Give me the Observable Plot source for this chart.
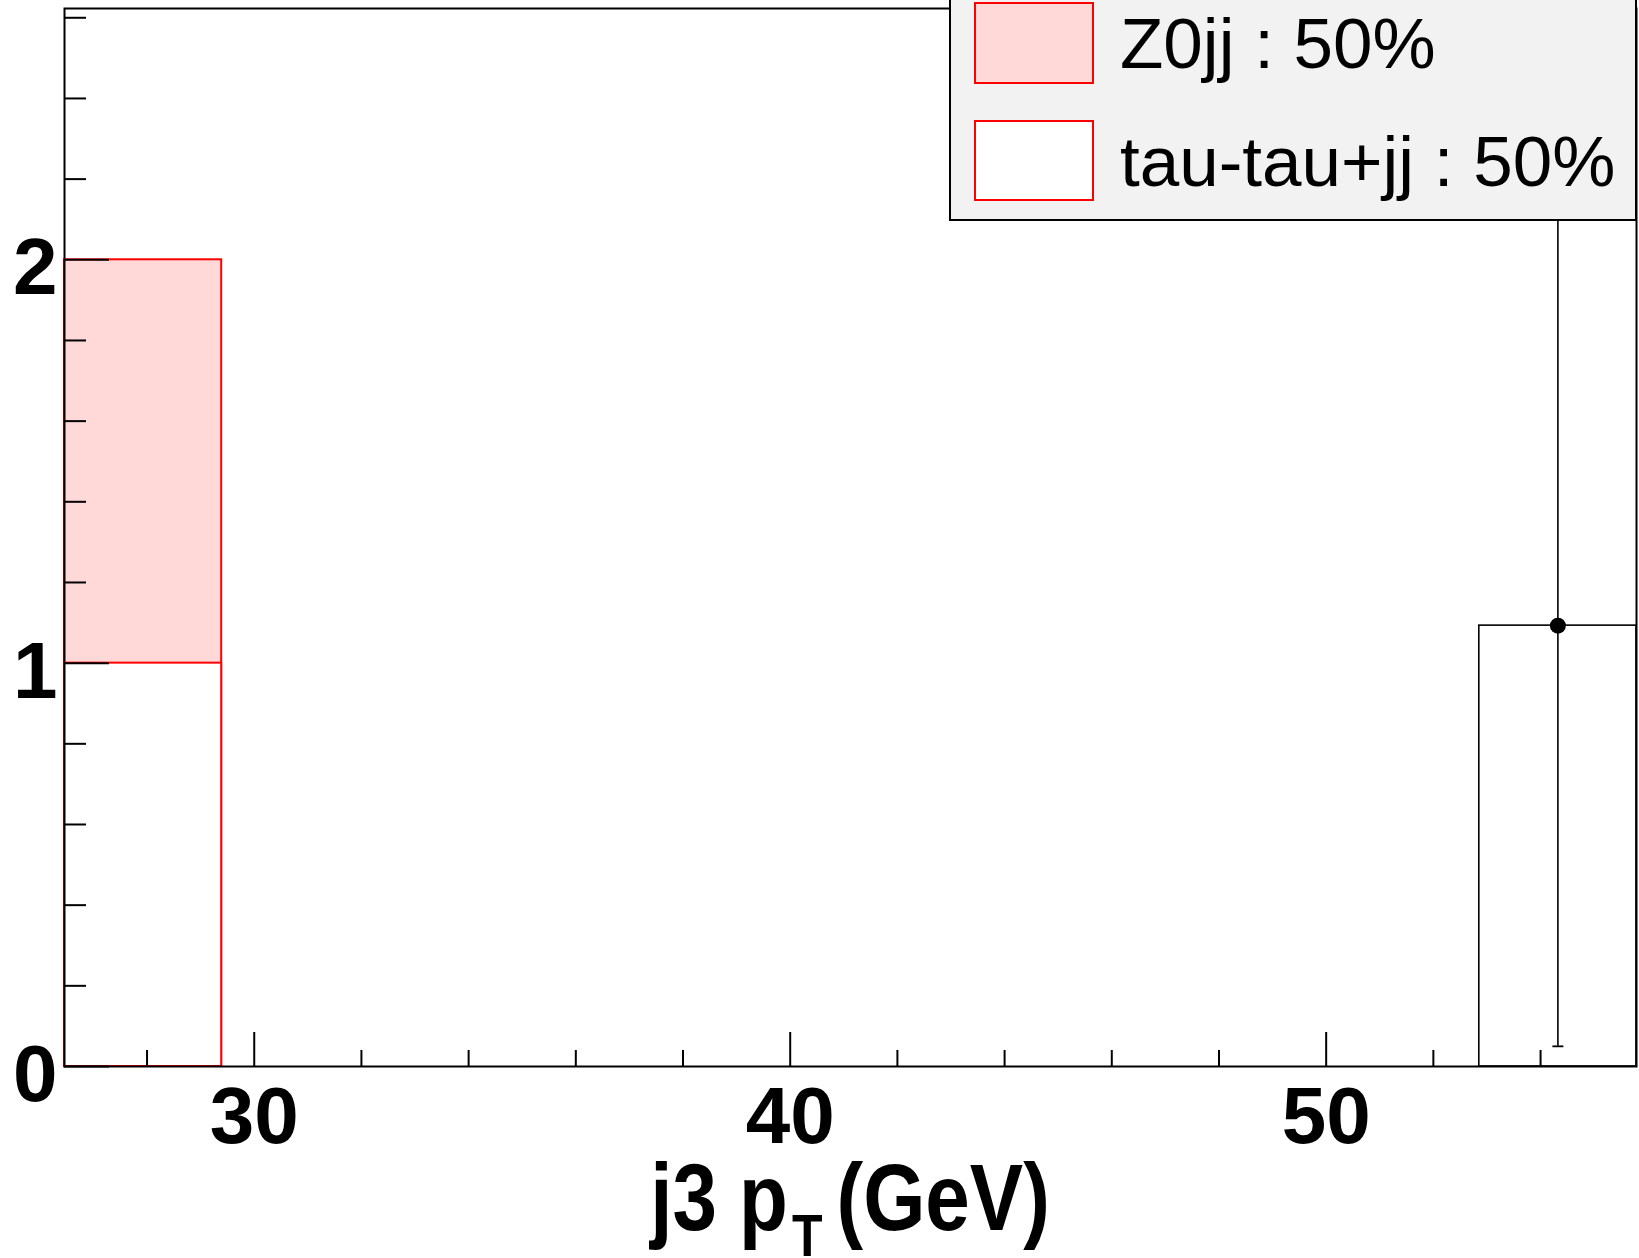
<!DOCTYPE html>
<html>
<head>
<meta charset="utf-8">
<script src="https://cdn.jsdelivr.net/npm/d3@7"></script>
<script src="https://cdn.jsdelivr.net/npm/@observablehq/plot@0.6"></script>
<style>
  html, body { margin: 0; padding: 0; background: #fff; }
  #wrap { position: relative; width: 1639px; height: 1258px; overflow: hidden;
          font-family: "Liberation Sans", Arial, Helvetica, sans-serif; }
  #legend { position: absolute; left: 949px; top: -3px; width: 688px; height: 224px;
            box-sizing: border-box; background: #f2f2f2; border: 2px solid #000; }
  .sw { position: absolute; left: 23px; width: 120px; box-sizing: border-box; border: 2px solid #ff0000; }
  .lt { position: absolute; left: 169px; font-size: 71px; line-height: 71px; color: #000; white-space: nowrap; }
</style>
</head>
<body>
<div id="wrap"></div>
<script>
// ---- data ----
const binEdges   = [26.46, 29.393, 32.326, 35.259, 38.192, 41.125, 44.058, 46.991, 49.924, 52.857, 55.79];
const tauTauJJ   = [1, 0, 0, 0, 0, 0, 0, 0, 0, 0];
const z0JJ       = [1, 0, 0, 0, 0, 0, 0, 0, 0, 0];
const dataValues = [0, 0, 0, 0, 0, 0, 0, 0, 0, 1.093];
const dataErrors = [0, 0, 0, 0, 0, 0, 0, 0, 0, 1.043];
const legendLabels = ["Z0jj : 50%", "tau-tau+jj : 50%"];
const yMajorTicks = [0, 1, 2];
const yMinorTicks = [0.2, 0.4, 0.6, 0.8, 1.2, 1.4, 1.6, 1.8, 2.2, 2.4, 2.6];
const xMajorTicks = [30, 40, 50];
const xMinorTicks = [28, 32, 34, 36, 38, 42, 44, 46, 48, 52, 54];
const xDomain = [26.46, 55.79];
const yDomain = [0, 2.623];
const xTitle = ["j3 p", "T", "(GeV)"];

// ---- build table ----
const bins = tauTauJJ.map((v, i) => ({
  x1: binEdges[i], x2: binEdges[i + 1], xc: (binEdges[i] + binEdges[i + 1]) / 2,
  tau: v, z0: z0JJ[i], stack: v + z0JJ[i], data: dataValues[i], err: dataErrors[i]
}));
const stackBins = bins.filter(d => d.stack > 0);
const tauBins = bins.filter(d => d.tau > 0);
const dataBins = bins.filter(d => d.data > 0);

const W = 1639, H = 1258, mL = 64, mR = 3, mT = 8, mB = 192;
const innerW = W - mL - mR, innerH = H - mT - mB;
const pink = "#ffd8d8", red = "#ff0000";

const capSymbol = { draw(ctx, size) { const w = Math.sqrt(size); ctx.moveTo(-w, 0); ctx.lineTo(w, 0); } };

const chart = Plot.plot({
  width: W, height: H,
  marginLeft: mL, marginRight: mR, marginTop: mT, marginBottom: mB,
  x: { domain: xDomain, axis: null },
  y: { domain: yDomain, axis: null },
  style: { fontFamily: '"Liberation Sans", Arial, Helvetica, sans-serif', background: "#fff", overflow: "visible" },
  marks: [
    Plot.rectY(stackBins, { x1: "x1", x2: "x2", y1: 0, y2: "stack", fill: pink, stroke: red, strokeWidth: 2 }),
    Plot.rectY(tauBins, { x1: "x1", x2: "x2", y1: 0, y2: "tau", fill: "#fff", stroke: red, strokeWidth: 2 }),
    Plot.rectY(dataBins, { x1: "x1", x2: "x2", y1: 0, y2: "data", fill: "none", stroke: "#000", strokeWidth: 1.6 }),
    Plot.ruleX(dataBins, { x: "xc", y1: d => d.data - d.err, y2: d => d.data + d.err, stroke: "#000", strokeWidth: 1.6 }),
    Plot.dot(dataBins, { x: "xc", y: d => d.data - d.err, symbol: capSymbol, r: 3.1, stroke: "#000", strokeWidth: 1.8, fill: "none" }),
    Plot.dot(dataBins, { x: "xc", y: "data", r: 8, fill: "#000", stroke: "none" }),
    Plot.tickY(yMinorTicks, { y: d => d, insetRight: innerW - 22, stroke: "#000", strokeWidth: 2 }),
    Plot.tickY(yMajorTicks, { y: d => d, insetRight: innerW - 45, stroke: "#000", strokeWidth: 2 }),
    Plot.tickX(xMinorTicks, { x: d => d, insetTop: innerH - 16, stroke: "#000", strokeWidth: 2 }),
    Plot.tickX(xMajorTicks, { x: d => d, insetTop: innerH - 34, stroke: "#000", strokeWidth: 2 }),
    Plot.axisY(yMajorTicks, { tickSize: 0, tickPadding: 7, fontSize: 80, fontWeight: "bold", dy: 9, label: null, tickFormat: d => String(d), fill: "#000" }),
    Plot.axisX(xMajorTicks, { tickSize: 0, tickPadding: 20, fontSize: 80, fontWeight: "bold", label: null, tickFormat: d => String(d), fill: "#000" }),
    Plot.frame({ stroke: "#000", strokeWidth: 2 })
  ]
});

// x-axis title with subscript, centred under the frame
const svg = d3.select(chart);
const tx = (mL + (W - mR)) / 2;
const title = svg.append("text")
  .attr("transform", `translate(${tx},1230) scale(1,1.18)`)
  .attr("text-anchor", "middle")
  .attr("font-family", '"Liberation Sans", Arial, Helvetica, sans-serif')
  .attr("font-weight", "bold")
  .attr("font-size", 80)
  .attr("fill", "#000");
title.append("tspan").text(xTitle[0]);
title.append("tspan").attr("font-size", 50).attr("dx", 4).attr("dy", 22).text(xTitle[1]);
title.append("tspan").attr("dx", 14).attr("dy", -22).text(xTitle[2]);

const wrap = document.getElementById("wrap");
wrap.appendChild(chart);

// legend (ROOT TLegend style)
const legend = document.createElement("div");
legend.id = "legend";
const swFills = [pink, "#fff"];
const swTops = [3, 121];
const swHeights = [82, 81];
const txtTops = [9.2, 127.2];
legendLabels.forEach((lab, i) => {
  const sw = document.createElement("div");
  sw.className = "sw";
  sw.style.top = swTops[i] + "px";
  sw.style.height = swHeights[i] + "px";
  sw.style.background = swFills[i];
  legend.appendChild(sw);
  const t = document.createElement("div");
  t.className = "lt";
  t.style.top = txtTops[i] + "px";
  t.textContent = lab;
  legend.appendChild(t);
});
wrap.appendChild(legend);
</script>
</body>
</html>
